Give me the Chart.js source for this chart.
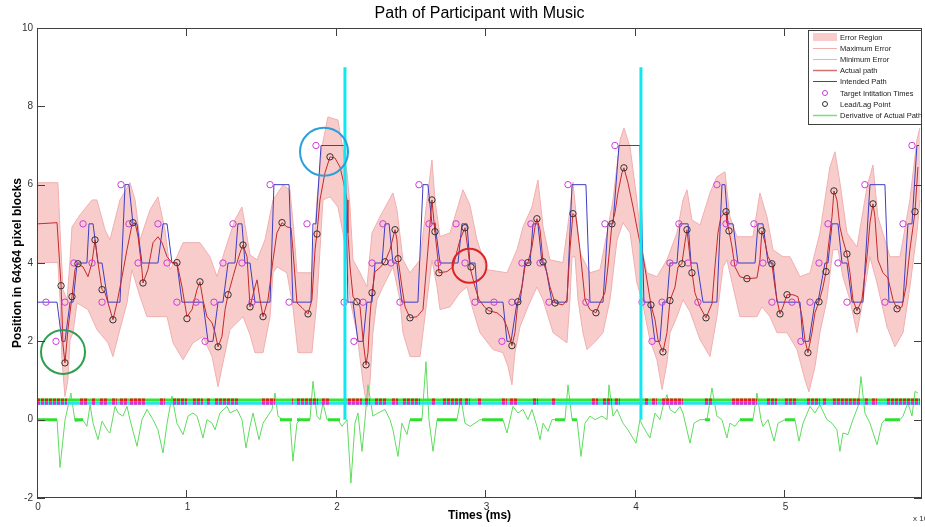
<!DOCTYPE html>
<html><head><meta charset="utf-8">
<script src="https://cdn.jsdelivr.net/npm/chart.js@4/dist/chart.umd.min.js"></script>
<style>html,body{margin:0;padding:0;background:#fff;overflow:hidden}canvas{display:block}</style>
</head><body>
<canvas id="c" width="925" height="527"></canvas>
<script>
// ---- axis ticks (x in units of 10^4 ms) ----
const xTickValues = [0, 1, 2, 3, 4, 5];
const xTickLabels = ['0', '1', '2', '3', '4', '5'];
const yTickValues = [-2, 0, 2, 4, 6, 8, 10];
const yTickLabels = ['-2', '0', '2', '4', '6', '8', '10'];

// ---- intended path (step) ----
const intendedX = [0.000,0.134,0.167,0.187,0.221,0.241,0.268,0.334,0.348,0.375,0.408,0.435,0.475,0.555,0.589,0.615,0.642,0.669,0.702,0.809,0.843,0.870,0.903,0.936,0.970,1.110,1.144,1.177,1.211,1.244,1.278,1.324,1.344,1.371,1.391,1.425,1.458,1.559,1.585,1.686,1.712,1.833,1.846,1.866,1.900,2.060,
2.080,2.114,2.147,2.181,2.207,2.241,2.261,2.308,2.328,2.355,2.381,2.408,2.441,2.548,2.582,2.615,2.642,2.662,2.696,2.816,2.843,2.876,2.896,2.930,2.950,3.117,3.144,3.171,3.211,3.231,3.264,3.298,3.318,3.351,3.378,3.398,3.445,3.545,3.579,3.672,3.699,3.786,3.819,3.853,3.893,4.033,
4.060,4.100,4.134,4.167,4.187,4.214,4.234,4.281,4.301,4.355,4.375,4.415,4.455,4.548,4.582,4.602,4.622,4.656,4.689,4.803,4.823,4.856,4.890,4.923,4.950,5.104,5.124,5.164,5.204,5.224,5.271,5.291,5.318,5.358,5.385,5.418,5.452,5.525,5.572,5.672,5.699,5.793,5.826,5.853,5.886,5.900];
const intendedY = [3,3,2,2,3,3,4,4,5,5,4,4,3,3,6,6,5,5,4,4,5,5,4,4,3,3,2,2,3,3,4,4,5,5,4,4,3,3,6,6,3,3,5,5,7,7,
3,3,2,2,3,3,4,4,5,5,4,4,3,3,6,6,5,5,4,4,5,5,4,4,3,3,2,2,3,3,4,4,5,5,4,4,3,3,6,6,3,3,5,5,7,7,
3,3,2,2,3,3,4,4,5,5,4,4,3,3,6,6,5,5,4,4,5,5,4,4,3,3,2,2,3,3,4,4,5,5,4,4,3,3,6,6,3,3,5,5,7,7];

// ---- actual path ----
const actualX = [0.007,0.134,0.161,0.174,0.187,0.207,0.234,0.254,0.274,0.308,0.341,0.368,0.388,0.408,0.435,0.455,0.475,0.508,0.535,0.569,0.602,0.635,0.656,0.676,0.702,0.709,0.742,0.776,0.809,0.836,0.870,0.903,0.936,0.970,1.003,1.037,1.070,1.090,1.110,1.137,1.171,1.191,1.211,1.237,1.258,1.278,1.311,1.338,1.358,1.378,1.405,1.425,
1.458,1.472,1.492,1.512,1.545,1.579,1.605,1.639,1.672,1.699,1.712,1.739,1.773,1.813,1.839,1.860,1.873,1.893,1.926,1.960,1.993,2.027,2.047,2.074,2.080,2.094,2.114,2.140,2.161,2.181,2.201,2.214,2.227,2.241,2.261,2.294,2.328,2.361,2.395,2.408,2.415,2.441,2.462,2.495,2.542,2.582,2.615,2.642,2.656,2.662,2.682,2.689,2.742,2.783,2.829,2.863,2.883,
2.896,2.930,2.957,2.997,3.023,3.077,3.117,3.144,3.177,3.197,3.217,3.244,3.264,3.284,3.311,3.331,3.344,3.365,3.385,3.411,3.431,3.465,3.518,3.545,3.565,3.585,3.605,3.632,3.666,3.699,3.739,3.766,3.799,3.819,3.846,3.866,3.886,3.913,3.926,3.953,3.987,4.020,4.054,4.080,4.107,4.134,4.154,4.187,4.214,4.234,4.268,4.288,4.314,4.334,4.348,
4.368,4.381,4.401,4.435,4.475,4.515,4.535,4.555,4.575,4.609,4.615,4.629,4.649,4.669,4.702,4.749,4.816,4.836,4.849,4.870,4.890,4.916,4.936,4.950,4.970,4.990,5.017,5.057,5.090,5.117,5.137,5.157,5.184,5.204,5.231,5.258,5.278,5.291,5.318,5.331,5.351,5.371,5.391,5.418,5.438,5.458,5.485,5.518,5.552,5.572,5.592,5.605,5.625,5.659,5.692,5.726,5.753,5.786,5.813,5.839,5.860,5.873,5.893];
const actualY = [5.00,5.03,3.42,1.91,1.45,2.30,3.14,3.83,3.98,3.90,3.65,4.01,4.59,4.01,3.32,3.24,2.98,2.55,2.98,3.65,4.34,4.97,5.03,4.67,3.83,3.49,3.83,4.52,4.67,4.52,4.16,4.01,4.01,3.39,2.63,2.81,3.32,3.52,3.06,2.63,2.47,2.22,1.86,2.12,2.81,3.19,3.65,4.01,4.26,4.46,4.16,2.88,
3.39,3.57,3.06,2.63,3.06,4.08,4.77,5.03,4.92,4.90,4.34,2.98,2.86,2.70,3.06,4.34,4.77,5.61,6.30,6.71,6.68,6.45,6.12,5.61,4.77,3.90,3.14,3.01,2.88,2.04,1.40,1.71,2.63,3.24,3.78,3.88,4.03,4.34,4.85,4.59,4.11,3.39,2.88,2.60,2.63,2.81,4.34,5.61,5.03,4.80,4.08,3.75,3.78,3.90,4.59,4.90,4.34,
3.90,3.39,3.06,2.86,2.78,2.73,2.60,2.37,1.89,2.22,3.01,3.39,3.90,4.01,4.41,4.92,5.13,4.85,4.03,3.75,3.39,2.98,2.93,3.06,4.34,5.26,5.18,4.34,3.06,2.81,2.73,2.98,3.24,3.90,5.00,5.28,5.79,6.30,6.43,6.05,5.43,4.77,4.16,3.57,2.93,2.55,2.04,1.73,2.22,3.04,3.39,3.90,3.98,4.52,4.85,
4.13,3.78,3.24,2.88,2.60,2.96,3.90,4.77,5.18,5.31,5.03,4.82,4.41,3.90,3.65,3.60,3.62,4.08,4.82,4.52,4.16,3.98,3.39,3.06,2.70,2.88,3.19,3.19,3.14,2.63,2.04,1.71,2.22,2.73,3.01,3.39,3.78,4.34,5.18,5.84,5.61,4.92,4.59,4.23,3.75,3.06,2.78,3.06,4.16,5.03,5.51,5.18,4.08,3.75,3.62,3.06,2.83,2.88,3.39,4.34,4.92,5.31,6.45];

// ---- error region bounds ----
const maxErrX = [0.000,0.140,0.154,0.174,0.201,0.221,0.234,0.288,0.368,0.401,0.455,0.488,0.555,0.622,0.656,0.689,0.756,0.809,0.856,0.890,0.936,0.977,1.090,1.157,1.204,1.258,1.324,1.371,1.425,1.472,1.525,1.579,1.645,1.692,1.719,1.739,1.839,1.873,1.906,1.946,2.013,2.047,2.074,2.094,2.114,2.161,2.207,2.241,2.294,2.381,2.408,2.448,2.495,2.562,2.609,2.642,2.662,2.696,2.763,2.849,2.896,2.943,3.010,3.144,3.211,3.251,3.311,3.351,3.385,3.431,3.518,3.565,3.585,3.632,3.699,3.766,3.813,3.853,3.900,3.926,3.967,4.013,4.047,4.080,4.147,4.214,4.281,4.321,4.348,4.381,4.435,4.502,4.548,4.602,4.635,4.682,4.789,4.836,4.883,4.923,4.990,5.037,5.104,5.171,5.237,5.304,5.338,5.371,5.418,5.485,5.552,5.592,5.625,5.706,5.773,5.839,5.886,5.906];
const maxErrY = [6.05,6.05,4.85,3.32,3.06,4.08,4.92,5.23,5.61,5.61,4.85,4.59,5.61,6.05,5.61,4.59,5.36,5.69,4.85,3.83,4.16,4.52,4.52,4.16,3.65,4.34,5.10,5.43,4.21,4.08,4.59,5.61,5.99,5.87,4.77,3.75,3.75,5.61,6.96,7.73,7.65,6.89,6.30,5.43,4.08,3.75,3.39,4.77,5.18,5.79,5.36,4.08,3.75,4.08,5.61,6.63,5.61,4.67,4.77,5.87,5.48,4.59,3.83,3.75,4.34,4.92,5.43,6.12,4.92,4.08,4.01,5.36,6.07,4.26,3.75,3.83,4.77,5.61,7.14,7.45,6.96,5.61,4.34,3.75,3.65,4.08,4.77,5.61,5.87,5.10,4.97,5.79,6.20,6.33,5.18,4.67,4.67,5.79,5.18,4.34,4.16,4.16,3.65,3.75,4.77,6.45,6.84,6.05,4.77,4.41,5.94,6.50,5.18,4.16,4.16,5.61,7.14,7.45];
const minErrX = [0.000,0.140,0.154,0.167,0.187,0.207,0.221,0.241,0.268,0.341,0.401,0.475,0.508,0.542,0.602,0.635,0.689,0.736,0.870,0.910,0.977,1.043,1.110,1.171,1.211,1.244,1.291,1.378,1.425,1.458,1.512,1.559,1.579,1.605,1.672,1.712,1.746,1.839,1.873,1.893,1.913,1.960,2.013,2.047,2.074,2.094,2.140,2.181,2.207,2.227,2.247,2.274,2.314,2.381,2.428,2.448,2.495,2.562,2.609,2.642,2.676,2.696,2.763,2.829,2.876,2.916,2.963,3.050,3.117,3.151,3.177,3.197,3.231,3.284,3.344,3.385,3.452,3.545,3.565,3.579,3.599,3.619,3.652,3.679,3.746,3.786,3.833,3.880,3.920,3.967,4.013,4.047,4.100,4.147,4.181,4.214,4.234,4.281,4.321,4.368,4.435,4.502,4.548,4.589,4.615,4.656,4.702,4.816,4.849,4.903,4.950,5.017,5.084,5.137,5.164,5.204,5.237,5.284,5.324,5.358,5.391,5.438,5.485,5.525,5.572,5.619,5.686,5.739,5.793,5.839,5.886,5.906];
const minErrY = [4.01,4.01,3.06,1.53,0.59,1.02,2.04,2.22,2.98,2.81,2.30,1.96,1.61,2.12,2.98,3.83,3.14,2.63,2.63,1.96,1.53,1.96,2.12,1.61,0.84,1.45,2.30,2.63,2.17,1.71,1.71,2.63,3.75,3.90,3.75,2.88,1.71,1.71,3.06,4.34,5.61,5.69,5.43,4.77,4.08,3.06,2.22,0.94,0.33,0.94,2.22,3.06,3.39,3.90,3.06,2.22,1.61,1.61,3.06,4.08,3.39,2.81,2.88,3.24,3.39,2.81,2.22,1.79,1.71,1.35,0.89,1.71,2.37,2.88,3.39,3.06,2.22,1.96,3.06,4.16,4.16,3.06,2.22,1.79,2.04,2.22,3.06,4.59,5.03,4.77,3.49,3.06,2.04,1.53,0.77,1.45,2.22,2.63,3.06,2.76,2.04,1.61,2.63,3.90,4.08,3.39,2.63,2.63,2.88,2.63,2.22,2.22,1.79,1.02,0.71,1.35,2.22,3.06,4.34,4.34,3.65,3.06,2.22,3.06,4.16,3.49,2.37,1.86,2.22,3.39,4.77,5.61];

// ---- target initiation times ----
const targetX = [0.060,0.127,0.187,0.247,0.308,0.368,0.435,0.562,0.615,0.676,0.809,0.870,0.936,1.064,1.124,1.184,1.244,1.311,1.371,1.438,1.559,1.686,1.806,1.866,
2.054,2.120,2.181,2.241,2.314,2.368,2.428,2.555,2.622,2.682,2.803,2.863,2.930,3.057,3.110,3.177,3.244,3.304,3.365,3.425,3.552,3.672,3.799,3.866,
4.047,4.114,4.181,4.234,4.294,4.355,4.421,4.548,4.609,4.662,4.796,4.856,4.916,5.050,5.110,5.171,5.231,5.291,5.358,5.418,5.538,5.672,5.793,5.853];
const targetY = [3,2,3,4,5,4,3,6,5,4,5,4,3,3,2,3,4,5,4,3,6,3,5,7,
3,2,3,4,5,4,3,6,5,4,5,4,3,3,2,3,4,5,4,3,6,3,5,7,
3,2,3,4,5,4,3,6,5,4,5,4,3,3,2,3,4,5,4,3,6,3,5,7];

// ---- lead / lag points ----
const leadX = [0.161,0.187,0.234,0.274,0.388,0.435,0.508,0.642,0.709,0.936,1.003,1.090,1.211,1.278,1.378,1.425,
1.512,1.639,1.813,1.873,1.960,2.140,2.201,2.241,2.328,2.395,2.415,2.495,2.642,2.662,2.689,2.863,2.903,
3.023,3.177,3.217,3.284,3.344,3.385,3.465,3.585,3.739,3.846,3.926,4.107,4.187,4.234,4.314,4.348,4.381,
4.475,4.609,4.629,4.749,4.849,4.916,4.970,5.017,5.157,5.231,5.278,5.331,5.418,5.485,5.592,5.753,5.873];
const leadY = [3.42,1.45,3.14,3.98,4.59,3.32,2.55,5.03,3.49,4.01,2.58,3.52,1.86,3.19,4.46,2.88,
2.63,5.03,2.70,4.74,6.71,3.01,1.40,3.24,4.03,4.85,4.11,2.60,5.61,4.80,3.75,4.90,3.90,
2.78,1.89,3.01,4.01,5.13,4.03,2.98,5.26,2.73,5.00,6.43,2.93,1.73,3.04,3.98,4.85,3.75,
2.60,5.31,4.82,3.60,4.82,3.98,2.70,3.19,1.71,3.01,3.78,5.84,4.23,2.78,5.51,2.83,5.31];

// ---- derivative of actual path ----
const derivX = [0,0.134,0.154,0.187,0.227,0.254,0.308,0.334,0.355,0.375,0.408,0.435,0.475,0.488,0.522,0.542,0.575,0.602,0.622,0.669,0.702,0.736,0.776,0.809,0.843,0.870,0.903,0.936,0.977,1.010,1.043,1.070,1.090,1.110,1.137,1.171,1.191,1.224,1.271,1.291,1.338,1.371,1.398,1.425,1.445,1.485,1.512,1.572,1.592,1.612,1.645,1.692,1.712,1.739,1.759,1.826,1.846,1.873,1.893,1.913,1.940,1.960,2.013,2.040,2.074,2.100,2.127,2.147,2.174,2.194,2.214,2.247,2.281,2.328,2.361,2.381,2.415,2.441,2.475,2.495,2.575,2.602,2.622,2.649,2.676,2.809,2.836,2.863,2.896,2.930,2.963,3.117,3.144,3.164,3.184,3.217,3.251,3.284,3.311,3.344,3.365,3.385,3.418,3.445,3.478,3.532,3.552,3.579,3.612,3.639,3.666,3.699,3.732,3.779,3.813,3.826,3.853,3.880,3.920,3.953,4.007,4.033,4.054,4.080,4.100,4.134,4.167,4.187,4.214,4.234,4.268,4.301,4.321,4.368,4.395,4.435,4.482,4.515,4.548,4.582,4.615,4.635,4.669,4.702,4.789,4.816,4.843,4.856,4.890,4.930,4.957,5.003,5.070,5.097,5.124,5.171,5.204,5.237,5.284,5.318,5.351,5.371,5.391,5.425,5.458,5.492,5.512,5.538,5.572,5.619,5.652,5.672,5.773,5.793,5.826,5.853,5.873,5.893];
const derivY = [0,0,-1.22,-0.02,0.68,-0.04,-0.02,-0.17,0.38,-0.09,-0.51,-0.04,-0.30,-0.34,0.34,0.17,0.09,0.34,0,-0.68,0,0.26,0,-0.26,-0.85,-0.09,0.60,-0.09,-0.38,0.09,0.17,0.09,-0.17,-0.47,0,-0.09,-0.26,0.17,0.34,0.17,0.26,0,-0.72,-0.17,0.17,-0.51,-0.09,0.26,0.68,0.09,0,0,-1.06,-0.09,0,0,0.98,0.09,0,0.43,0,0,0,-0.17,0,-1.62,-0.09,0.17,-0.81,0,0.89,0.09,0.17,0.26,0,-0.26,-0.94,-0.09,-0.38,0,0,1.48,0,-0.81,0,0,0.55,-0.09,-0.17,-0.09,0,0,-0.34,0,0.34,0.17,0.26,0,0.26,-0.17,-0.51,-0.09,-0.30,0,0,0,0.89,0,0,-0.94,-0.09,0.09,0,0.09,0,0.89,0.09,0.26,-0.09,-0.26,-0.60,0,-0.17,-0.34,-0.47,0.17,0,0.34,0.64,0.26,0.17,0.34,0.17,-0.60,-0.09,0,0,0.81,0.09,0,-0.47,-0.09,-0.17,0,0,0.68,0,-0.17,0,-0.55,-0.09,0,0,-0.55,-0.09,0.34,0.17,0.38,0,-0.09,-0.26,-0.81,-0.34,-0.38,0,0.34,1.10,0.17,-0.09,-0.64,-0.09,0,0,0.09,0.43,0.09,0.72,0.68];
const derivRestStart = [0.000,0.254,1.625,1.739,1.946,2.495,2.676,2.977,3.465,3.579,4.468,4.702,5.003,5.672];
const derivRestEnd   = [0.134,0.308,1.706,1.826,2.027,2.575,2.809,3.117,3.532,3.612,4.502,4.789,5.070,5.773];

// ---- lead/lag indicator rows ----
const rowStart = 0.000, rowEnd = 5.906;
const leadRowY = 0.50, lagRowY = 0.42;
const leadSegStart = [0.000,0.288,0.368,0.421,0.502,0.555,0.622,0.823,0.910,1.043,1.137,1.191,1.505,1.706,1.739,1.906,2.080,2.194,2.261,2.375,2.448,2.642,2.716,2.863,2.950,3.110,3.164,3.318,3.445,3.712,3.786,3.866,4.067,4.114,4.181,4.468,4.649,4.883,5.003,5.151,5.258,5.324,5.538,5.585,5.686];
const leadSegEnd   = [0.201,0.341,0.388,0.468,0.535,0.602,0.722,0.856,1.003,1.110,1.157,1.344,1.592,1.712,1.880,1.960,2.174,2.227,2.341,2.415,2.562,2.662,2.843,2.896,2.977,3.144,3.211,3.351,3.465,3.753,3.846,3.900,4.087,4.147,4.321,4.515,4.816,4.950,5.084,5.237,5.284,5.505,5.559,5.619,5.906];

// ---- section markers (cyan) ----
const sectionX = [2.060, 4.040];
const sectionBottom = 0, sectionTop = 9;

// ---- highlighted regions ----
const highlightX = [0.174, 1.920, 2.893];
const highlightY = [1.73, 6.84, 3.93];
const highlightColors = ['#2e9e4f', '#2c9fd9', '#dd2424'];
const highlightRadius = [22, 24, 17];

// ---- legend ----
const legendLabels = ['Error Region','Maximum Error','Minimum Error','Actual path','Intended Path','Target Intitation Times','Lead/Lag Point','Derivative of Actual Path'];

const C = {
  fill: 'rgb(249,204,204)', edge: 'rgb(240,175,175)', actual: '#c42a2a', intended: '#3d3dc4',
  target: '#cc3cdc', lead: '#333333', deriv: '#5fdc5f', cyan: '#12e6ee',
  rowGreen: '#2ee82e', rowRed: '#ee1c1c', rowCyan: '#27e3ea', rowMag: '#e22ccf'
};

const zip = (xs, ys) => xs.map((x, i) => ({x, y: ys[i]}));
const segs = (s, e, y) => { const d = []; s.forEach((a, i) => { d.push({x: a, y}, {x: e[i], y}, {x: e[i], y: null}); }); return d; };
const vlines = [];
sectionX.forEach(v => vlines.push({x: v, y: sectionBottom}, {x: v, y: sectionTop}, {x: v, y: null}));

const line = (data, color, width, order, extra) => Object.assign({
  data, showLine: true, borderColor: color, borderWidth: width, pointRadius: 0, fill: false, order, spanGaps: false, tension: 0
}, extra || {});

const datasets = [
  line(zip(maxErrX, maxErrY), C.edge, 1, 20, {fill: '+1', backgroundColor: C.fill}),
  line(zip(minErrX, minErrY), C.edge, 1, 19),
  line(zip(derivX, derivY), C.deriv, 1, 15),
  line(segs(derivRestStart, derivRestEnd, 0), '#2fe02f', 3, 14),
  line([{x: rowStart, y: leadRowY}, {x: rowEnd, y: leadRowY}], C.rowGreen, 3, 13),
  line([{x: rowStart, y: lagRowY}, {x: rowEnd, y: lagRowY}], C.rowCyan, 3, 12),
  line(segs(leadSegStart, leadSegEnd, leadRowY), C.rowRed, 3, 11, {borderDash: [3, 1]}),
  line(segs(leadSegStart, leadSegEnd, lagRowY), C.rowMag, 3, 10, {borderDash: [3, 1]}),
  line(zip(intendedX, intendedY), C.intended, 1, 9),
  line(zip(actualX, actualY), C.actual, 1, 8),
  {data: zip(targetX, targetY), showLine: false, pointRadius: 3.2, pointBorderWidth: 1, pointBorderColor: C.target, pointBackgroundColor: 'rgba(0,0,0,0)', order: 6},
  {data: zip(leadX, leadY), showLine: false, pointRadius: 3.2, pointBorderWidth: 1, pointBorderColor: C.lead, pointBackgroundColor: 'rgba(0,0,0,0)', order: 5},
  line(vlines, C.cyan, 3, 3),
  {data: zip(highlightX, highlightY), showLine: false, pointRadius: highlightRadius, pointBorderWidth: 2, pointBorderColor: highlightColors, pointBackgroundColor: 'rgba(0,0,0,0)', order: 1}
];

const FONT = '"Liberation Sans", Arial, sans-serif';
const matlabPlugin = {
  id: 'matlabAxes',
  afterDatasetsDraw(chart) {
    const {ctx, chartArea: a, scales: {x, y}} = chart;
    ctx.save();
    // frame
    ctx.strokeStyle = '#404040'; ctx.lineWidth = 1;
    ctx.strokeRect(a.left + 0.5, a.top + 0.5, a.right - a.left - 1, a.bottom - a.top - 1);
    // tick marks (inward, all sides)
    ctx.beginPath();
    xTickValues.forEach(v => { const p = Math.round(x.getPixelForValue(v)) + 0.5;
      ctx.moveTo(p, a.bottom); ctx.lineTo(p, a.bottom - 8); ctx.moveTo(p, a.top); ctx.lineTo(p, a.top + 8); });
    yTickValues.forEach(v => { const p = Math.round(y.getPixelForValue(v)) + 0.5;
      ctx.moveTo(a.left, p); ctx.lineTo(a.left + 8, p); ctx.moveTo(a.right, p); ctx.lineTo(a.right - 8, p); });
    ctx.stroke();
    // tick labels
    ctx.fillStyle = '#333'; ctx.font = '10px ' + FONT;
    ctx.textAlign = 'right'; ctx.textBaseline = 'middle';
    yTickValues.forEach((v, i) => ctx.fillText(yTickLabels[i], a.left - 4, y.getPixelForValue(v)));
    ctx.textAlign = 'center'; ctx.textBaseline = 'top';
    xTickValues.forEach((v, i) => ctx.fillText(xTickLabels[i], x.getPixelForValue(v) + 1, a.bottom + 4));
    ctx.textAlign = 'left'; ctx.font = '8px ' + FONT;
    ctx.fillText('x 10', a.right - 9, a.bottom + 17);
    ctx.font = '6px ' + FONT; ctx.fillText('4', a.right + 6, a.bottom + 14);
    // title & axis titles
    ctx.fillStyle = '#000';
    ctx.font = '16px ' + FONT; ctx.textAlign = 'center'; ctx.textBaseline = 'middle';
    ctx.fillText('Path of Participant with Music', (a.left + a.right) / 2, 14);
    ctx.font = 'bold 12px ' + FONT;
    ctx.fillText('Times (ms)', (a.left + a.right) / 2, a.bottom + 18);
    ctx.save(); ctx.translate(18, (a.top + a.bottom) / 2); ctx.rotate(-Math.PI / 2);
    ctx.fillText('Position in 64x64 pixel blocks', 0, 0); ctx.restore();
    // legend
    const lx = 808, ly = 30, lw = 114, lh = 95;
    ctx.fillStyle = '#fff'; ctx.fillRect(lx, ly, lw, lh);
    ctx.strokeStyle = '#404040'; ctx.strokeRect(lx + 0.5, ly + 0.5, lw - 1, lh - 1);
    const rows = [37, 48, 59, 70, 81, 93, 104, 115];
    const sx0 = 813, sx1 = 837;
    const styles = [
      {t: 'patch', c: C.fill}, {t: 'line', c: C.edge}, {t: 'line', c: C.edge}, {t: 'line', c: '#d07070', w: 1.5},
      {t: 'line', c: C.intended}, {t: 'pt', c: C.target}, {t: 'pt', c: C.lead}, {t: 'line', c: '#7be07b', w: 1.5}
    ];
    styles.forEach((s, i) => {
      const ry = rows[i];
      if (s.t === 'patch') { ctx.fillStyle = s.c; ctx.fillRect(sx0, ry - 4, sx1 - sx0, 8); }
      else if (s.t === 'line') { ctx.strokeStyle = s.c; ctx.lineWidth = s.w || 1; ctx.beginPath(); ctx.moveTo(sx0, ry + 0.5); ctx.lineTo(sx1, ry + 0.5); ctx.stroke(); }
      else { ctx.strokeStyle = s.c; ctx.lineWidth = 1; ctx.beginPath(); ctx.arc((sx0 + sx1) / 2, ry, 2.5, 0, Math.PI * 2); ctx.stroke(); }
    });
    ctx.fillStyle = '#222'; ctx.font = '7.5px ' + FONT; ctx.textAlign = 'left'; ctx.textBaseline = 'middle';
    legendLabels.forEach((t, i) => ctx.fillText(t, 840, rows[i] + 0.5));
    ctx.restore();
  }
};

new Chart(document.getElementById('c'), {
  type: 'scatter',
  data: {datasets},
  options: {
    responsive: false, animation: false, devicePixelRatio: 1, events: [],
    layout: {autoPadding: false, padding: {left: 37, right: 3, top: 28, bottom: 29}},
    scales: {
      x: {type: 'linear', min: 0, max: 5.92, display: false},
      y: {type: 'linear', min: -2, max: 10, display: false}
    },
    plugins: {legend: {display: false}, tooltip: {enabled: false}, title: {display: false}}
  },
  plugins: [matlabPlugin]
});
</script>
</body></html>
